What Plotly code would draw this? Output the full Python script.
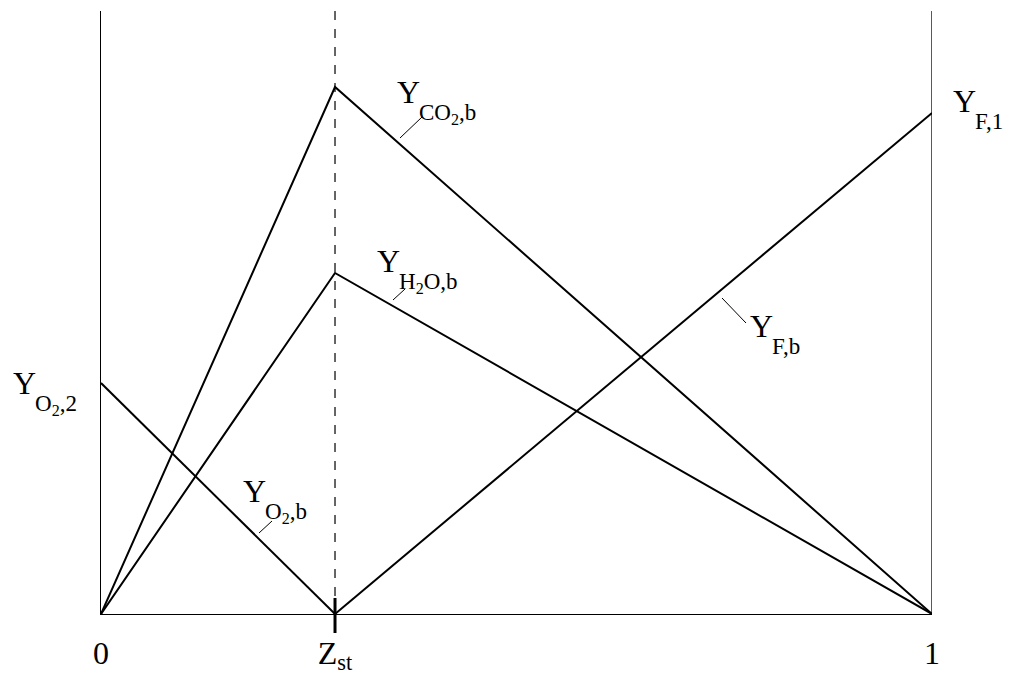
import plotly.graph_objects as go

# mixture fraction positions
z_st = 0.2816
x_full = [0, z_st, 1]
x_ox = [0, z_st]
x_fu = [z_st, 1]

# burnt-gas mass fractions (normalised)
y_co2 = [0, 0.874, 0]
y_h2o = [0, 0.5655, 0]
y_o2 = [0.383, 0]
y_f = [0, 0.831]

tick_vals = [0, z_st, 1]
tick_text = ["0", "Z<sub>st</sub>", "1"]

FONT = "Liberation Serif, Times New Roman, serif"
LINE = dict(color="black", width=2)

# plot area in screen pixels (page has an 8px body margin)
PL, PR, PT, PB = 101, 932, 11, 614


def px(v):
    return (v - PL) / (PR - PL)


def py(v):
    return (PB - v) / (PB - PT)


fig = go.Figure()
for xs, ys in [(x_full, y_co2), (x_full, y_h2o), (x_ox, y_o2), (x_fu, y_f)]:
    fig.add_trace(go.Scatter(x=xs, y=ys, mode="lines", line=LINE,
                             showlegend=False, hoverinfo="skip"))

# right border and stoichiometric dashed line
fig.add_shape(type="line", xref="x", yref="paper", x0=1, x1=1, y0=0, y1=1,
              line=dict(color="black", width=1.3))
fig.add_shape(type="line", xref="x", yref="paper", x0=z_st, x1=z_st, y0=0, y1=1,
              line=dict(color="black", width=1.2, dash="dash"))
fig.add_shape(type="line", xref="x", yref="paper", x0=z_st, x1=z_st, y0=-0.0315, y1=0.0265,
              line=dict(color="black", width=3))

# labels: (subscript, left edge of Y, baseline of Y) in pixels
labels = [
    ("CO<sub>2</sub>,b", 397, 103),
    ("H<sub>2</sub>O,b", 377, 272),
    ("O<sub>2</sub>,b", 243, 502),
    ("F,b", 750, 337),
    ("F,1", 953, 112),
    ("O<sub>2</sub>,2", 13, 394),
]
for sub, lx, base in labels:
    fig.add_annotation(x=px(lx - 2), y=py(base - 10.8), xref="paper", yref="paper",
                       text="Y", showarrow=False, xanchor="left", yanchor="middle",
                       font=dict(size=32, family=FONT, color="black"))
    fig.add_annotation(x=px(lx + 20), y=py(base + 15.5 - 20.5), xref="paper", yref="paper",
                       text=sub, showarrow=False, xanchor="left", yanchor="top",
                       font=dict(size=23, family=FONT, color="black"))

# leader lines (pixels)
leaders = [
    (400, 138, 422, 117),
    (393, 300, 405, 289),
    (259, 533, 272, 521),
    (722, 298, 746, 323),
]
for x0, y0, x1, y1 in leaders:
    fig.add_shape(type="line", xref="paper", yref="paper",
                  x0=px(x0), y0=py(y0), x1=px(x1), y1=py(y1),
                  line=dict(color="black", width=1))

# 1000x668 + 8px body margin on each side fills the 1016x684 window
fig.update_layout(
    width=1000, height=668,
    margin=dict(l=93, r=76, t=3, b=62),
    paper_bgcolor="white", plot_bgcolor="white",
    font=dict(family=FONT, size=32, color="black"),
)
fig.update_xaxes(range=[0, 1], showgrid=False, zeroline=False, showline=True,
                 linecolor="black", linewidth=1.3, tickvals=tick_vals, ticktext=tick_text,
                 ticks="outside", ticklen=10, tickcolor="rgba(0,0,0,0)",
                 tickfont=dict(size=32, family=FONT), automargin=False)
fig.update_yaxes(range=[0, 1], showgrid=False, zeroline=False, showline=True,
                 linecolor="black", linewidth=1.3, showticklabels=False, automargin=False)

fig.write_html("out.html")
